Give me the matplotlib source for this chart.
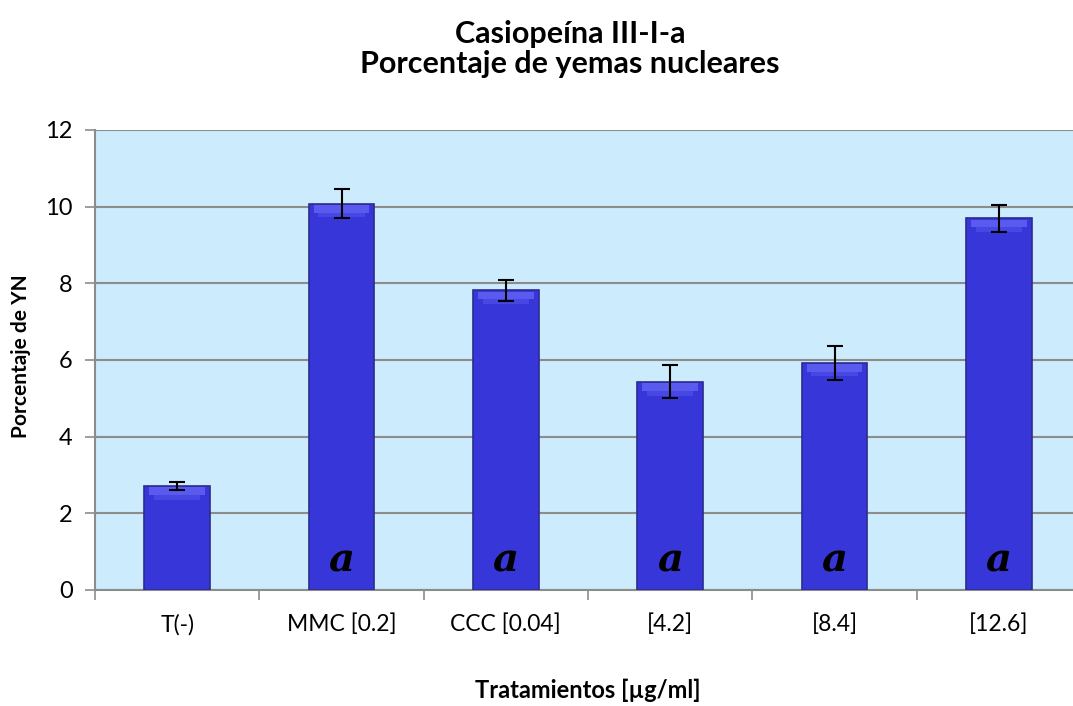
import numpy as np
import matplotlib.pyplot as plt

categories = ["T(-)", "MMC [0.2]", "CCC [0.04]", "[4.2]", "[8.4]", "[12.6]"]
values = [2.72, 10.08, 7.82, 5.43, 5.93, 9.70]
errors = [0.10, 0.37, 0.28, 0.43, 0.44, 0.35]
marks = ["", "a", "a", "a", "a", "a"]

plt.rcParams['font.family'] = ['Lato', 'DejaVu Sans']

fig = plt.figure(figsize=(10.73, 7.06), dpi=100)
ax = fig.add_axes([95 / 1073, 1 - 590 / 706, 986 / 1073, 460 / 706])
ax.set_facecolor("#CCEBFC")

x = np.arange(len(categories))
w = 0.4
ax.bar(x, values, width=w, color="#3737D9", edgecolor="#2B2B8F", linewidth=1.2, zorder=3)
# light bevel on top of each bar
ax.bar(x, 0.2, width=w * 0.85, bottom=np.array(values) - 0.24, color="#5A5AEE",
       linewidth=0, zorder=4)
ax.bar(x, 0.12, width=w * 0.7, bottom=np.array(values) - 0.36, color="#4747E3",
       linewidth=0, zorder=4)
ax.errorbar(x, values, yerr=errors, fmt="none", ecolor="black", elinewidth=1.5,
            capsize=6, capthick=1.5, zorder=5)

for xi, m in zip(x, marks):
    if m:
        ax.text(xi, 0.28, m, ha="center", va="bottom", fontsize=29, style="italic",
                fontweight="bold", family="DejaVu Serif", zorder=6)

ax.set_xlim(-0.5, len(categories) - 0.5)
ax.set_ylim(0, 12)
ax.set_yticks(range(0, 13, 2))
ax.yaxis.grid(True, color="#8C8C8C", linewidth=1.5, zorder=0)
ax.set_axisbelow(True)

ax.set_xticks(x)
ax.set_xticklabels(categories, fontsize=16.5)
ax.set_xticks(np.arange(-0.5, len(categories)), minor=True)
ax.tick_params(axis="x", which="major", length=0, pad=17)
ax.tick_params(axis="x", which="minor", length=7, color="#8C8C8C", width=1.2)
ax.tick_params(axis="y", length=7, color="#8C8C8C", width=1.2, labelsize=17, pad=9)

for s in ["top", "right"]:
    ax.spines[s].set_visible(False)
for s in ["left", "bottom"]:
    ax.spines[s].set_color("#8C8C8C")
    ax.spines[s].set_linewidth(1.5)

fig.text(21 / 1073, 1 - 356 / 706, "Porcentaje de YN", rotation=90, ha="center", va="center",
         fontsize=15, fontweight="bold")
fig.text(588 / 1073, 1 - 690 / 706, "Tratamientos [µg/ml]", ha="center", va="center",
         fontsize=17, fontweight="bold")
fig.text(570 / 1073, 1 - 49 / 706, "Casiopeína III-I-a\nPorcentaje de yemas nucleares",
         ha="center", va="center", fontsize=22, fontweight="bold", linespacing=1.05)

fig.savefig("out.png", dpi=100)
